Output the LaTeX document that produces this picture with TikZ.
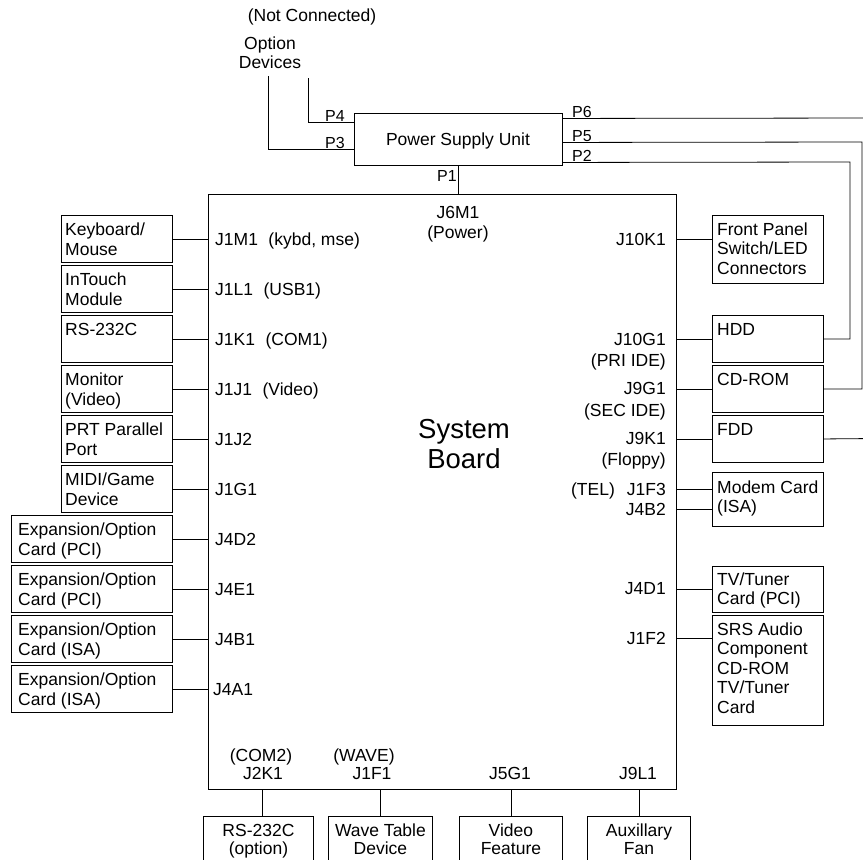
\documentclass[tikz,border=0pt]{standalone}
\usepackage{fontspec}
\setmainfont{Liberation Sans}
\newcommand{\mylines}[1]{\begin{tabular}[t]{@{}l@{}}#1\end{tabular}}
\newcommand{\mylinesc}[1]{\begin{tabular}[t]{@{}c@{}}#1\end{tabular}}
\begin{document}
\begin{tikzpicture}[x=1pt,y=-1pt,
  bx/.style={draw, line width=0.9pt, inner sep=0pt, anchor=north west},
  tx/.style={inner sep=0pt, font=\fontsize{17.5}{19.5}\selectfont},
  txb/.style={inner sep=0pt, font=\fontsize{17.5}{18}\selectfont},
  plab/.style={inner sep=0pt, anchor=base, font=\fontsize{16}{18}\selectfont},
  wire/.style={line width=0.8pt},
  blab/.style={tx, anchor=base west},
  rlab/.style={tx, anchor=base east}]
\useasboundingbox (0,0) rectangle (863,860);

% Power supply
\node[bx, minimum width=208pt, minimum height=52pt] (psu) at (354,113) {};
\node[tx, anchor=base] (psut) at (458,145) {Power Supply Unit};

% System board
\node[bx, minimum width=468pt, minimum height=595pt] (board) at (208,194) {};
\node[inner sep=0pt, anchor=base, font=\fontsize{27.5}{30}\selectfont] (sbt) at (464,438) {\mylinesc{System\\Board}};

% Top texts
\node[tx, anchor=base] (nc) at (312,21) {(Not Connected)};
\node[tx, anchor=base] (od) at (270,49) {\mylinesc{Option\\Devices}};

% PSU connectors
\coordinate (p4e) at (308,78);
\coordinate (p3e) at (268,76);
\coordinate (p6e) at (875,118);
\coordinate (p5c) at (862,142);
\coordinate (p2c) at (850,162);
\draw[wire] ([yshift=17pt]psu.west) -| (p4e);
\draw[wire] ([yshift=-10pt]psu.west) -| (p3e);
\draw[wire] ([yshift=21pt]psu.east) -- (p6e);
\draw[wire] (psu.south) -- (psu.south |- board.north);
\node[plab] (lp4) at (335,121) {P4};
\node[plab] (lp3) at (335,148) {P3};
\node[plab] (lp6) at (582,117) {P6};
\node[plab] (lp5) at (582,141) {P5};
\node[plab] (lp2) at (582,161) {P2};
\node[plab] (lp1) at (447,181) {P1};

% Left boxes
\node[bx, minimum width=111pt, minimum height=47pt] (kb) at (61,215) {};
\node[bx, minimum width=111pt, minimum height=47pt] (it) at (61,265) {};
\node[bx, minimum width=111pt, minimum height=47pt] (rs) at (61,315) {};
\node[bx, minimum width=111pt, minimum height=47pt] (mon) at (61,365) {};
\node[bx, minimum width=111pt, minimum height=47pt] (prt) at (61,415) {};
\node[bx, minimum width=111pt, minimum height=47pt] (midi) at (61,465) {};
\node[bx, minimum width=161pt, minimum height=47pt] (exa) at (11,515) {};
\node[bx, minimum width=161pt, minimum height=47pt] (exb) at (11,565) {};
\node[bx, minimum width=161pt, minimum height=47pt] (exc) at (11,615) {};
\node[bx, minimum width=161pt, minimum height=47pt] (exd) at (11,665) {};
\node[blab] at ([xshift=4pt,yshift=-20.5pt]kb.north west) {\mylines{Keyboard/\\Mouse}};
\node[blab] at ([xshift=4pt,yshift=-20.5pt]it.north west) {\mylines{InTouch\\Module}};
\node[blab] at ([xshift=4pt,yshift=-20.5pt]rs.north west) {\mylines{RS-232C}};
\node[blab] at ([xshift=4pt,yshift=-20.5pt]mon.north west) {\mylines{Monitor\\(Video)}};
\node[blab] at ([xshift=4pt,yshift=-20.5pt]prt.north west) {\mylines{PRT Parallel\\Port}};
\node[blab] at ([xshift=4pt,yshift=-20.5pt]midi.north west) {\mylines{MIDI/Game\\Device}};
\node[blab] at ([xshift=7pt,yshift=-20.5pt]exa.north west) {\mylines{Expansion/Option\\Card (PCI)}};
\node[blab] at ([xshift=7pt,yshift=-20.5pt]exb.north west) {\mylines{Expansion/Option\\Card (PCI)}};
\node[blab] at ([xshift=7pt,yshift=-20.5pt]exc.north west) {\mylines{Expansion/Option\\Card (ISA)}};
\node[blab] at ([xshift=7pt,yshift=-20.5pt]exd.north west) {\mylines{Expansion/Option\\Card (ISA)}};
\foreach \b in {kb,it,rs,mon,prt,midi,exa,exb,exc,exd}
  \draw[wire] (\b.east) -- (\b.east -| board.west);

% Left labels on board
\node[blab] at (215,245.3) {J1M1\hspace{10.5pt}(kybd, mse)};
\node[blab] at (215,295.3) {J1L1\hspace{10.5pt}(USB1)};
\node[blab] at (215,345.3) {J1K1\hspace{10.5pt}(COM1)};
\node[blab] at (215,395.3) {J1J1\hspace{10.5pt}(Video)};
\node[blab] at (215,445.3) {J1J2};
\node[blab] at (215,495.3) {J1G1};
\node[blab] at (215,545.3) {J4D2};
\node[blab] at (215,595.3) {J4E1};
\node[blab] at (215,645.3) {J4B1};
\node[blab] at (213,695.3) {J4A1};

% Right boxes
\node[bx, minimum width=111pt, minimum height=68pt] (fp) at (712,215) {};
\node[bx, minimum width=111pt, minimum height=47pt] (hdd) at (712,315) {};
\node[bx, minimum width=111pt, minimum height=47pt] (cd) at (712,365) {};
\node[bx, minimum width=111pt, minimum height=47pt] (fdd) at (712,415) {};
\node[bx, minimum width=111pt, minimum height=54pt] (mdm) at (712,472) {};
\node[bx, minimum width=111pt, minimum height=46pt] (tv) at (712,566) {};
\node[bx, minimum width=111pt, minimum height=110pt] (srs) at (712,615) {};
\node[blab] at ([xshift=5pt,yshift=-20pt]fp.north west) {\mylines{Front Panel\\Switch/LED\\Connectors}};
\node[blab] at ([xshift=5pt,yshift=-20pt]hdd.north west) {\mylines{HDD}};
\node[blab] at ([xshift=5pt,yshift=-20pt]cd.north west) {\mylines{CD-ROM}};
\node[blab] at ([xshift=5pt,yshift=-20pt]fdd.north west) {\mylines{FDD}};
\node[blab] at ([xshift=5pt,yshift=-21pt]mdm.north west) {\mylines{Modem Card\\(ISA)}};
\node[blab] at ([xshift=5pt,yshift=-19pt]tv.north west) {\mylines{TV/Tuner\\Card (PCI)}};
\node[blab] at ([xshift=5pt,yshift=-20pt]srs.north west) {\mylines{SRS Audio\\Component\\CD-ROM\\TV/Tuner\\Card}};

\draw[wire] ([yshift=10pt]fp.west) -- ([yshift=10pt]fp.west -| board.east);
\foreach \b in {hdd,cd,fdd,tv}
  \draw[wire] (\b.west) -- (\b.west -| board.east);
\draw[wire] ([yshift=10pt]mdm.west) -- ([yshift=10pt]mdm.west -| board.east);
\draw[wire] ([yshift=-10pt]mdm.west) -- ([yshift=-10pt]mdm.west -| board.east);
\draw[wire] ([yshift=32pt]srs.west) -- ([yshift=32pt]srs.west -| board.east);

% Right side power runs
\coordinate (fdde) at (875,438.5);
\draw[wire] ([yshift=-3pt]psu.east) -- (p5c) |- (cd.east);
\draw[wire] ([yshift=-23pt]psu.east) -- (p2c) |- (hdd.east);
\draw[wire] (fdd.east) -- (fdde);

% Right labels on board
\node[rlab] at (666,245.3) {J10K1};
\node[rlab] at (666,345.3) {J10G1};
\node[rlab] at (666,366) {(PRI IDE)};
\node[rlab] at (666,394.3) {J9G1};
\node[rlab] at (666,416) {(SEC IDE)};
\node[rlab] at (666,444.3) {J9K1};
\node[rlab] at (666,465) {(Floppy)};
\node[rlab] at (666,495.3) {(TEL)\hspace{12pt}J1F3};
\node[rlab] at (666,515.3) {J4B2};
\node[rlab] at (666,594.3) {J4D1};
\node[rlab] at (666,644.3) {J1F2};

% Top labels on board
\node[tx, anchor=base] at (458,218) {J6M1};
\node[tx, anchor=base] at (458,238) {(Power)};

% Bottom labels on board
\node[tx, anchor=base] at (261,761) {(COM2)};
\node[tx, anchor=base] at (263,779) {J2K1};
\node[tx, anchor=base] at (364,761) {(WAVE)};
\node[tx, anchor=base] at (372,779) {J1F1};
\node[tx, anchor=base] at (510,779) {J5G1};
\node[tx, anchor=base] at (638,779) {J9L1};

% Bottom boxes
\node[bx, minimum width=110pt, minimum height=60pt] (ba) at (203,816) {};
\node[bx, minimum width=104pt, minimum height=60pt] (bb) at (328,816) {};
\node[bx, minimum width=103pt, minimum height=60pt] (bc) at (459,816) {};
\node[bx, minimum width=103pt, minimum height=60pt] (bd) at (587,816) {};
\node[txb, anchor=base] at ([yshift=-20pt]ba.north) {\mylinesc{RS-232C\\(option)}};
\node[txb, anchor=base] at ([yshift=-20pt]bb.north) {\mylinesc{Wave Table\\Device}};
\node[txb, anchor=base] at ([yshift=-20pt]bc.north) {\mylinesc{Video\\Feature}};
\node[txb, anchor=base] at ([yshift=-20pt]bd.north) {\mylinesc{Auxillary\\Fan}};
\draw[wire] ([xshift=3.7pt]ba.north) -- ([xshift=3.7pt]ba.north |- board.south);
\foreach \b in {bb,bc,bd}
  \draw[wire] (\b.north) -- (\b.north |- board.south);
\end{tikzpicture}
\end{document}
